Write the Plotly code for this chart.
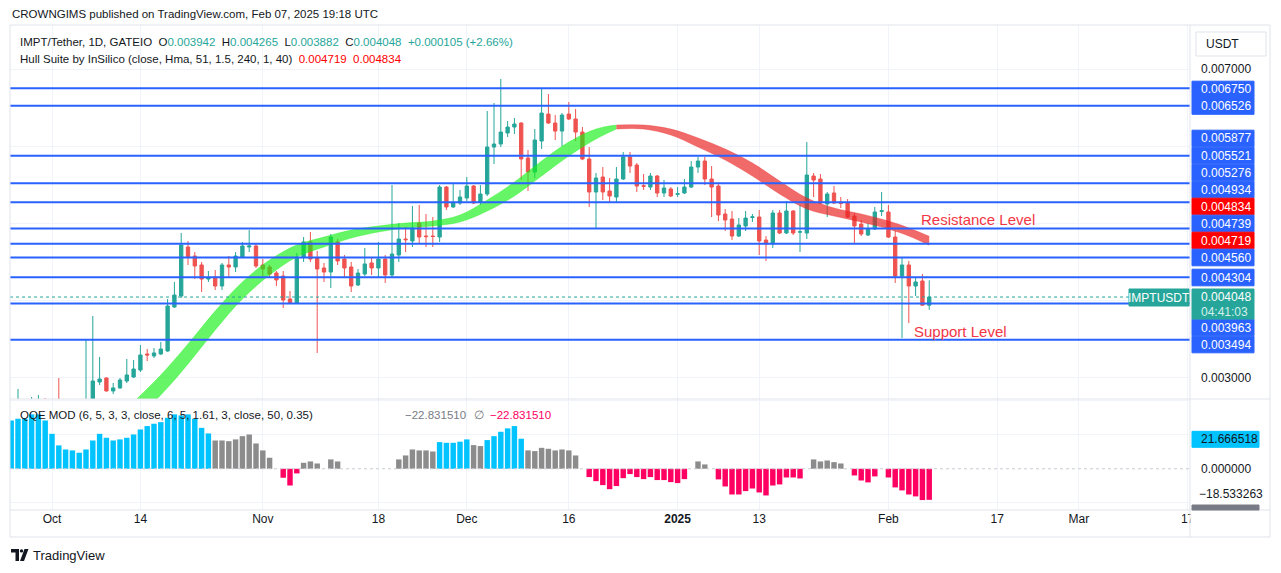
import plotly.graph_objects as go
from plotly.subplots import make_subplots
import pandas as pd

# ---------------------------------------------------------------- data
early_dates = ["2024-09-26", "2024-09-28", "2024-09-29", "2024-09-30", "2024-10-02"]
candle_dates = early_dates + [d.strftime("%Y-%m-%d") for d in pd.date_range("2024-10-06", "2025-02-07")]

opens = [
    .002640, .002690, .002690, .002720, .002715, .002620, .002650, .002948, .003000, .002832,
    .002871, .002961, .003013, .003103, .003311, .003285, .003311, .003349, .003919, .004061,
    .004696, .004579, .004463, .004281, .004307, .004191, .004463, .004437, .004566, .004696,
    .004709, .004463, .004437, .004359, .004320, .004023, .003971, .004566, .004761, .004553,
    .004424, .004372, .004761, .004540, .004437, .004204, .004346, .004489, .004424, .004540,
    .004333, .004592, .004799, .004774, .005006, .004838, .004838, .004825, .005472, .005214,
    .005265, .005330, .005485, .005278, .005382, .005990, .006029, .006172, .006249, .006301,
    .005848, .005667, .006068, .006417, .006301, .006197, .006417, .006353, .006184, .005835,
    .005408, .005602, .005421, .005343, .005576, .005861, .005757, .005490, .005472, .005615,
    .005395, .005447, .005378, .005395, .005472, .005731, .005809, .005576, .005485, .005123,
    .005058, .004838, .004968, .005078, .005084, .004786, .004735, .005136, .004877, .005162,
    .004888, .004877, .005615, .005576, .005252, .005395, .005268, .005265, .005097, .004993,
    .004851, .004929, .005157, .005149, .004825, .004320, .004463, .004191, .004256, .003942,
]
highs = [
    .002858, .002754, .002780, .002741, .003000, .003505, .003803, .003272, .003010, .002935,
    .003000, .003246, .003233, .003427, .003375, .003388, .003466, .004023, .004243, .004877,
    .004774, .004631, .004502, .004385, .004398, .004489, .004579, .004631, .004761, .004916,
    .004748, .004540, .004463, .004385, .004385, .004126, .004618, .004825, .004890, .004644,
    .004489, .004864, .004799, .004592, .004502, .004411, .004683, .004553, .004761, .004592,
    .005498, .005006, .004955, .005227, .005240, .005123, .005084, .005498, .005485, .005511,
    .005434, .005602, .005498, .005498, .006456, .006560, .006871, .006327, .006366, .006310,
    .005951, .006223, .006741, .006676, .006404, .006430, .006573, .006482, .006249, .005990,
    .005654, .005731, .005589, .005731, .005926, .005926, .005783, .005641, .005654, .005628,
    .005563, .005472, .005472, .005576, .005809, .005861, .005861, .005744, .005511, .005188,
    .005162, .005071, .005162, .005123, .005175, .004838, .005175, .005175, .005291, .005175,
    .005240, .006055, .005654, .005641, .005408, .005485, .005343, .005317, .005136, .005045,
    .005006, .005214, .005408, .005240, .004903, .004566, .004515, .004307, .004346, .004265,
]
lows = [
    .002600, .002670, .002660, .002680, .002650, .002590, .002620, .002909, .002825, .002793,
    .002860, .002935, .003000, .003078, .003220, .003259, .003298, .003340, .003906, .004036,
    .004463, .004281, .004113, .004243, .004139, .004139, .004307, .004372, .004553, .004631,
    .004424, .004320, .004307, .004191, .003906, .003960, .003960, .004502, .004502, .003324,
    .004243, .004165, .004463, .004307, .004113, .004191, .004320, .004333, .004307, .004230,
    .004307, .004502, .004631, .004696, .004748, .004696, .004696, .004761, .005175, .005201,
    .005240, .005291, .005252, .005240, .005356, .005770, .005990, .006120, .006159, .005563,
    .005421, .005589, .005964, .006290, .006081, .006003, .006340, .006068, .005820, .005214,
    .004929, .005304, .005265, .005265, .005563, .005654, .005408, .005434, .005434, .005343,
    .005343, .005343, .005343, .005382, .005460, .005654, .005498, .005084, .005032, .004903,
    .004786, .004825, .004903, .005019, .004592, .004515, .004683, .004864, .004864, .004851,
    .004631, .004799, .005343, .005252, .005084, .005252, .005201, .005071, .004735, .004838,
    .004838, .004916, .005097, .004812, .004230, .003518, .003712, .004061, .003932, .003882,
]
closes = [
    .002710, .002720, .002720, .002700, .002690, .002700, .002961, .002987, .002832, .002871,
    .002974, .003039, .003116, .003298, .003298, .003324, .003375, .003932, .004074, .004722,
    .004566, .004450, .004281, .004294, .004191, .004463, .004437, .004579, .004709, .004709,
    .004450, .004411, .004346, .004269, .004010, .003971, .004566, .004761, .004540, .004411,
    .004372, .004825, .004515, .004424, .004191, .004359, .004476, .004424, .004540, .004333,
    .004605, .004799, .004790, .004942, .004825, .004830, .004832, .005472, .005214, .005265,
    .005343, .005485, .005265, .005382, .005990, .006029, .006184, .006249, .006288, .005835,
    .005667, .006081, .006430, .006301, .006197, .006404, .006353, .006184, .005835, .005408,
    .005589, .005408, .005356, .005576, .005861, .005744, .005485, .005482, .005615, .005395,
    .005460, .005356, .005386, .005472, .005731, .005809, .005576, .005472, .005110, .005045,
    .004838, .004981, .005071, .005086, .004774, .004735, .005136, .004877, .005162, .004877,
    .004893, .005628, .005563, .005265, .005382, .005265, .005262, .005084, .004968, .004864,
    .004929, .005149, .005165, .004825, .004320, .004463, .004191, .004243, .003943, .004048,
]

# Hull Suite band (two edges), read at sample dates
hull_dates = ["2024-10-13", "2024-10-17", "2024-10-21", "2024-10-25", "2024-10-29", "2024-11-02",
              "2024-11-06", "2024-11-10", "2024-11-14", "2024-11-18", "2024-11-22", "2024-11-26",
              "2024-11-30", "2024-12-04", "2024-12-08", "2024-12-12", "2024-12-16", "2024-12-20",
              "2024-12-23", "2024-12-27", "2024-12-31", "2025-01-04", "2025-01-08", "2025-01-12",
              "2025-01-16", "2025-01-20", "2025-01-24", "2025-01-28", "2025-02-01", "2025-02-04",
              "2025-02-07"]
hull_edge_a = [0.002689, 0.003039, 0.003440, 0.003867, 0.004243, 0.004527, 0.004722, 0.004825,
               0.004916, 0.004968, 0.005006, 0.005032, 0.005110, 0.005304, 0.005537, 0.005809,
               0.006055, 0.006223, 0.006275, 0.006275, 0.006223, 0.006107, 0.005964, 0.005783,
               0.005550, 0.005330, 0.005201, 0.005123, 0.005032, 0.004942, 0.004834]
hull_edge_b = [0.002456, 0.002780, 0.003181, 0.003621, 0.004023, 0.004333, 0.004566, 0.004696,
               0.004812, 0.004890, 0.004942, 0.004968, 0.005019, 0.005162, 0.005356, 0.005615,
               0.005874, 0.006094, 0.006223, 0.006223, 0.006146, 0.005990, 0.005822, 0.005615,
               0.005382, 0.005188, 0.005097, 0.005019, 0.004929, 0.004838, 0.004719]
hull_turn_date = "2024-12-23"

# horizontal levels drawn by the author
levels = [0.006750, 0.006526, 0.005877, 0.005521, 0.005276, 0.004934,
          0.004739, 0.004560, 0.004304, 0.003963, 0.003494]

# QQE MOD histogram (daily, 2024-09-25 .. 2025-02-07)
qqe_dates = [d.strftime("%Y-%m-%d") for d in pd.date_range("2024-09-25", "2025-02-07")]
qqe_values = [
    35.5, 36.8, 36.8, 40.0, 40.0, 35.5,
    25.7, 17.2, 14.2, 13.5, 11.8, 14.2, 20.8, 25.7, 22.8, 20.8,
    21.6, 22.8, 25.2, 28.9, 31.4, 33.1, 34.3, 37.5, 40.0, 39.2,
    40.0, 36.8, 30.1, 26.0, 20.8, 20.8, 20.3, 21.6, 24.0, 25.2, 18.6,
    13.5, 8.1, 0, -6.6, -12.3, -3.4, 4.4, 5.4, 3.9, 0,
    6.9, 5.4, 0, 0, 0, 0, 0, 0, 0, 0,
    6.9, 9.8, 14.2, 13.5, 13.5, 12.7, 19.6, 19.1, 19.1, 19.9,
    21.6, 17.4, 16.7, 21.1, 24.0, 27.2, 29.7, 31.4, 22.1, 13.5,
    13.0, 15.4, 14.7, 13.5, 14.2, 13.5, 9.8, 0, -6.1, -9.1,
    -12.0, -15.0, -12.7, -6.9, -3.9, -6.1, -7.6, -6.1, -8.3, -8.3, -9.8,
    -10.5, -7.6, 0, 5.4, 3.2, 0, -7.8, -13.0, -18.9, -18.9,
    -16.4, -14.5, -17.4, -19.6, -12.3, -11.5, -6.4, -6.4, -7.1, 0,
    6.9, 5.4, 6.1, 4.9, 3.9, 0, -4.9, -8.6, -10.0, -5.6, 0,
    -6.4, -13.7, -15.9, -18.9, -20.3, -23.0, -22.83151,
]
qqe_state = ("BBBBBB" "BBBBBBBBBB" "BBBBBBBBBB" "BBBBNNNNNNN" "NNNRRRNNNN" "NNNNNNNNNN"
             "NNNNNNBBBB" "BNNBBBBBBN" "NNNNNNNNRR" "RRRRRRRRRRR" "RRNNNNRRRR" "RRRRRRRRRN"
             "NNNNNNRRRRN" "RRRRRRR")
qqe_line_values = [21.666518, -18.533263]

x_ticks = ["2024-10-01", "2024-10-14", "2024-11-01", "2024-11-18", "2024-12-01", "2024-12-16",
           "2025-01-01", "2025-01-13", "2025-02-01", "2025-02-17", "2025-03-01", "2025-03-17"]
x_tick_text = ["Oct", "14", "Nov", "18", "Dec", "16", "<b>2025</b>", "13", "Feb", "17", "Mar", "17"]
price_grid = [0.003, 0.004, 0.005, 0.006, 0.007]
qqe_grid = [-25, 25, 50]

# ---------------------------------------------------------------- style / layout helpers
W, H = 1281, 573
PL, PR, PT, PB = 10, 1190, 25, 510
PANE_SPLIT = 399
FONT = "Liberation Sans, Arial, sans-serif"
TXT = "#131722"
UP, DOWN = "#26a69a", "#ef5350"
LEVEL_BLUE = "#2962ff"
FRAME = "#e0e3eb"
GRID = "#f0f3fa"
QQE_COL = {"B": "#00c3ff", "N": "#8c8c8c", "R": "#ff0062"}


def fx(x):
    return (x - PL) / (PR - PL)


def fy(y):
    return (PB - y) / (PB - PT)


price_range = [0.002728, 0.007570]
qqe_range = [-30.3, 51.3]
x_range = ["2024-09-24 19:46", "2025-03-17 08:24"]

fig = make_subplots(rows=2, cols=1, shared_xaxes=True, vertical_spacing=0,
                    row_heights=[PANE_SPLIT - PT, PB - PANE_SPLIT])

fig.add_trace(go.Candlestick(
    x=candle_dates, open=opens, high=highs, low=lows, close=closes,
    increasing=dict(line=dict(color=UP, width=1), fillcolor=UP),
    decreasing=dict(line=dict(color=DOWN, width=1), fillcolor=DOWN),
    whiskerwidth=0, showlegend=False, hoverinfo="skip"), row=1, col=1)

# Hull band
turn = hull_dates.index(hull_turn_date)
segments = [
    (slice(0, turn + 1), "rgba(20,240,20,0.65)"),
    (slice(turn, len(hull_dates)), "rgba(235,35,35,0.68)"),
]
for sl, col in segments:
    fig.add_trace(go.Scatter(x=hull_dates[sl], y=hull_edge_b[sl], mode="lines",
                             line=dict(color=col, width=0.5, shape="spline"),
                             showlegend=False, hoverinfo="skip"), row=1, col=1)
    fig.add_trace(go.Scatter(x=hull_dates[sl], y=hull_edge_a[sl], mode="lines",
                             line=dict(color=col, width=0.5, shape="spline"),
                             fill="tonexty", fillcolor=col,
                             showlegend=False, hoverinfo="skip"), row=1, col=1)

fig.add_trace(go.Bar(x=qqe_dates, y=qqe_values,
                     marker=dict(color=[QQE_COL[s] for s in qqe_state], line=dict(width=0)),
                     width=0.8 * 86400000, showlegend=False, hoverinfo="skip"), row=2, col=1)

axis_common = dict(showline=False, zeroline=False, ticks="", gridcolor=GRID, gridwidth=1)
fig.update_xaxes(range=x_range, tickvals=x_ticks, ticktext=x_tick_text, showgrid=True,
                 rangeslider_visible=False, tickfont=dict(family=FONT, size=12, color=TXT),
                 **axis_common)
fig.update_xaxes(showticklabels=False, row=1, col=1)
fig.update_yaxes(range=price_range, tickvals=price_grid, showticklabels=False, showgrid=True,
                 side="right", row=1, col=1, **axis_common)
fig.update_yaxes(range=qqe_range, tickvals=qqe_grid, showticklabels=False, showgrid=True,
                 side="right", row=2, col=1, **axis_common)

shapes = []
# author level lines
for lv in levels:
    shapes.append(dict(type="line", xref="x domain", yref="y", x0=0, x1=1, y0=lv, y1=lv,
                       line=dict(color=LEVEL_BLUE, width=2), layer="above"))
# current price dotted line
last_close = closes[-1]
shapes.append(dict(type="line", xref="x domain", yref="y", x0=0, x1=1, y0=last_close, y1=last_close,
                   line=dict(color=UP, width=1, dash="dot"), layer="above"))
# QQE zero line
shapes.append(dict(type="line", xref="x2 domain", yref="y2", x0=0, x1=1, y0=0, y1=0,
                   line=dict(color="#c9ccd4", width=1, dash="dot"), layer="above"))


def hline(y, x0=PL, x1=1270):
    shapes.append(dict(type="line", xref="paper", yref="paper", x0=fx(x0), x1=fx(x1),
                       y0=fy(y), y1=fy(y), line=dict(color=FRAME, width=1), layer="above"))


def vline(x, y0=PT, y1=537):
    shapes.append(dict(type="line", xref="paper", yref="paper", x0=fx(x), x1=fx(x),
                       y0=fy(y0), y1=fy(y1), line=dict(color=FRAME, width=1), layer="above"))


def rect(x0, y0, x1, y1, fill, line=None):
    shapes.append(dict(type="rect", xref="paper", yref="paper", x0=fx(x0), x1=fx(x1),
                       y0=fy(y1), y1=fy(y0), fillcolor=fill,
                       line=dict(color=line or fill, width=1), layer="above"))


# clip the last time label at the price-scale edge
rect(1191, 512, 1269, 536, "white")

hline(PT)
hline(PANE_SPLIT)
hline(PB)
hline(537)
vline(PL)
vline(PR)
vline(1270)

annotations = []


def text(t, x, y, size=12, color=TXT, xanchor="left"):
    annotations.append(dict(text=t, x=fx(x), y=fy(y), xref="paper", yref="paper",
                            xanchor=xanchor, yanchor="middle", showarrow=False,
                            font=dict(family=FONT, size=size, color=color)))


# price-scale labels (stacked boxes)
label_rows = [
    (levels[0], 89.5, LEVEL_BLUE), (levels[1], 106, LEVEL_BLUE),
    (levels[2], 138.5, LEVEL_BLUE), (levels[3], 155.5, LEVEL_BLUE),
    (levels[4], 172.5, LEVEL_BLUE), (levels[5], 189.5, LEVEL_BLUE),
    (hull_edge_a[-1], 206.5, "#ff0000"), (levels[6], 223.5, LEVEL_BLUE),
    (hull_edge_b[-1], 240.5, "#ff0000"), (levels[7], 257.5, LEVEL_BLUE),
    (levels[8], 277.5, LEVEL_BLUE), (levels[9], 327.5, LEVEL_BLUE),
    (levels[10], 344.5, LEVEL_BLUE),
]
for val, yc, bg in label_rows:
    rect(1192, yc - 8.3, 1254, yc + 8.3, bg)
    text(f"{val:.6f}", 1199, yc, size=12, color="white")

# current price box + countdown
rect(1192, 289, 1254, 319, UP)
text(f"{last_close:.6f}", 1199, 297, size=12, color="white")
text("04:41:03", 1199, 312, size=12, color="#d4efec")
rect(1129, 289, 1189, 306, UP)
text("IMPTUSDT", 1159, 297.5, size=12, color="white", xanchor="center")

# plain price ticks
text(f"{price_grid[-1]:.6f}", 1199, 69)
text(f"{price_grid[0]:.6f}", 1199, 378)

# USDT box
shapes.append(dict(type="rect", xref="paper", yref="paper", x0=fx(1196), x1=fx(1266),
                   y0=fy(56), y1=fy(32), fillcolor="white", line=dict(color=FRAME, width=1)))
text("USDT", 1204, 44)


# QQE scale labels
def qy(v):
    span = qqe_range[1] - qqe_range[0]
    return PB - (v - qqe_range[0]) / span * (PB - PANE_SPLIT)


rect(1192, qy(qqe_line_values[0]) - 8, 1259, qy(qqe_line_values[0]) + 8, "#00c3ff")
text(f"{qqe_line_values[0]:.6f}", 1199, qy(qqe_line_values[0]))
text("0.000000", 1199, qy(0))
text(f"\u2212{abs(qqe_line_values[1]):.6f}", 1197, qy(qqe_line_values[1]))
rect(1192, 505, 1259, PB, "#787b86")

# header / legends
HS = 11.5
text("CROWNGIMS published on TradingView.com, Feb 07, 2025 19:18 UTC", 10, 14, size=HS)
prev_close = closes[-2]
chg = closes[-1] - prev_close
pct = chg / prev_close * 100
tl = "#26a69a"
sp = "&nbsp;&nbsp;"
line1 = (f"IMPT/Tether, 1D, GATEIO{sp}O<span style='color:{tl}'>{opens[-1]:.6f}</span>{sp}"
         f"H<span style='color:{tl}'>{highs[-1]:.6f}</span>{sp}"
         f"L<span style='color:{tl}'>{lows[-1]:.6f}</span>{sp}"
         f"C<span style='color:{tl}'>{closes[-1]:.6f}</span>{sp}"
         f"<span style='color:{tl}'>+{chg:.6f} (+{pct:.2f}%)</span>")
text(line1, 18, 42, size=HS)
line2 = (f"Hull Suite by InSilico (close, Hma, 51, 1.5, 240, 1, 40){sp}"
         f"<span style='color:#ff0000'>{hull_edge_b[-1]:.6f}</span>{sp}"
         f"<span style='color:#ff0000'>{hull_edge_a[-1]:.6f}</span>")
text(line2, 18, 59, size=HS)
text("QQE MOD (6, 5, 3, 3, close, 6, 5, 1.61, 3, close, 50, 0.35)", 18, 415, size=HS)
text(f"\u2212{abs(qqe_values[-1]):.6f}", 403, 415, size=HS, color="#787b86")
text("\u2205", 472, 415, size=HS, color="#787b86")
text(f"\u2212{abs(qqe_values[-1]):.6f}", 488, 415, size=HS, color="#ff0062")

# drawn text labels
text("Resistance Level", 919, 219, size=15, color="#f23645")
text("Support Level", 912, 331, size=15, color="#f23645")

# TradingView logo
shapes.append(dict(type="path", xref="paper", yref="paper",
                   path=f"M {fx(11)} {fy(549)} L {fx(19)} {fy(549)} L {fx(19)} {fy(561)} "
                        f"L {fx(15.5)} {fy(561)} L {fx(15.5)} {fy(552.5)} L {fx(11)} {fy(552.5)} Z",
                   fillcolor=TXT, line=dict(width=0)))
shapes.append(dict(type="circle", xref="paper", yref="paper", x0=fx(19.8), x1=fx(23.2),
                   y0=fy(552.6), y1=fy(549.2), fillcolor=TXT, line=dict(width=0)))
shapes.append(dict(type="path", xref="paper", yref="paper",
                   path=f"M {fx(24.5)} {fy(549)} L {fx(28.5)} {fy(549)} L {fx(24)} {fy(561)} "
                        f"L {fx(20)} {fy(561)} Z",
                   fillcolor=TXT, line=dict(width=0)))
text("TradingView", 31, 555, size=13)

fig.update_layout(
    width=W, height=H,
    margin=dict(l=PL, r=W - PR, t=PT, b=H - PB),
    paper_bgcolor="white", plot_bgcolor="white",
    shapes=shapes, annotations=annotations,
    bargap=0.2, showlegend=False,
    font=dict(family=FONT, color=TXT),
)

fig.write_html("out.html", config={"displayModeBar": False})
